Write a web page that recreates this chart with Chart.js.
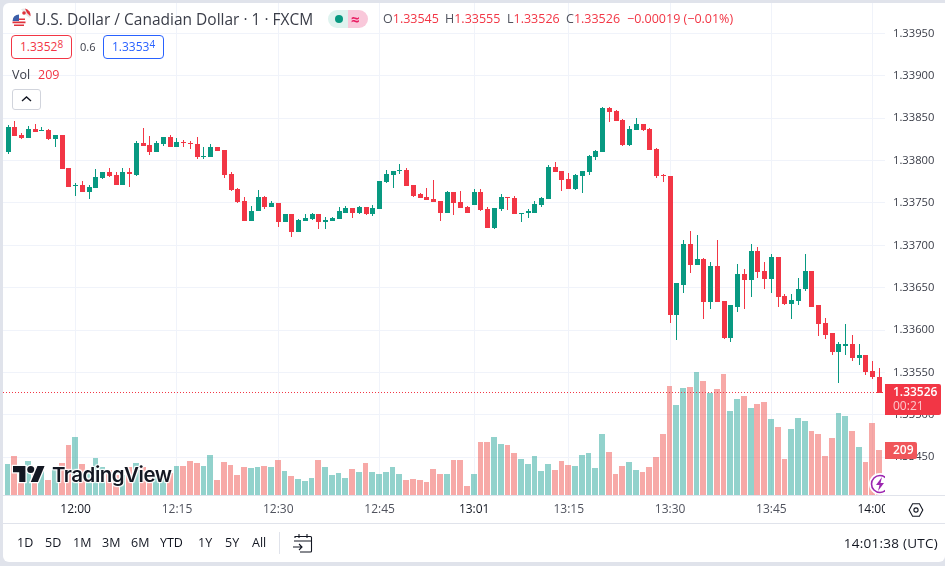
<!DOCTYPE html>
<html>
<head>
<meta charset="utf-8">
<title>USD/CAD</title>
<script src="https://cdn.jsdelivr.net/npm/chart.js@4"></script>
<style>
  html, body { margin: 0; padding: 0; background: #e0e3eb; }
  body { width: 945px; height: 566px; overflow: hidden; position: relative; font-family: "Open Sans", sans-serif; color: #131722; }
  #card { position: absolute; left: 3px; top: 3px; width: 942px; height: 559px; background: #fff; border-radius: 6px 0 6px 6px; }
  canvas { position: absolute; left: 0; top: 0; }
  .t { position: absolute; white-space: nowrap; line-height: 16px; }
  .red { color: #f23645; }
  .box { position: absolute; box-sizing: border-box; height: 24px; width: 61px; border: 1px solid; border-radius: 4px; font-size: 12px; line-height: 22px; text-align: center; background: #fff; }
  .box sup { font-size: 10px; line-height: 0; vertical-align: 3px; }
  .range { font-size: 12.5px; color: #131722; }
</style>
</head>
<body>
<div id="card"></div>
<canvas id="myChart" width="945" height="566"></canvas>

<!-- header -->
<svg style="position:absolute;left:12px;top:8px" width="19" height="20" viewBox="0 0 19 20">
  <circle cx="12" cy="7" r="6.5" fill="#fff"/>
  <path d="M9 1.2a6.5 6.5 0 0 1 8.6 8.8L14 7z" fill="#e8e8e8"/>
  <path d="M13 .6a6.5 6.5 0 0 1 5.4 7.6L15 5z" fill="#e0323c"/>
  <circle cx="12" cy="5" r="1.8" fill="#e0323c"/>
  <circle cx="7" cy="13" r="6.6" fill="#fff"/>
  <path d="M1 10.5h12v1.6H1zM.5 13.6h13v1.6H.5zM2 16.6h10v1.4H2z" fill="#e0323c"/>
  <path d="M7 6.4a6.6 6.6 0 0 0-6.5 6.6H7z" fill="#3c5fa8"/>
</svg>
<div class="t" style="left:35px;top:11px;font-size:15.5px;color:#3a3d48">U.S. Dollar / Canadian Dollar · 1 · FXCM</div>
<div style="position:absolute;left:328px;top:10px;width:20px;height:18px;background:#dff3ef;border-radius:9px 0 0 9px"></div>
<div style="position:absolute;left:348px;top:10px;width:20px;height:18px;background:#f9c8da;border-radius:0 9px 9px 0"></div>
<div style="position:absolute;left:335px;top:15px;width:8px;height:8px;background:#089981;border-radius:50%"></div>
<div class="t" style="left:351px;top:11px;font-size:15px;font-weight:700;color:#e91e63">≈</div>

<div class="t" style="left:383px;top:11px;font-size:12.5px;color:#50535e">O<span class="red">1.33545</span></div>
<div class="t" style="left:445px;top:11px;font-size:12.5px;color:#50535e">H<span class="red">1.33555</span></div>
<div class="t" style="left:507px;top:11px;font-size:12.5px;color:#50535e">L<span class="red">1.33526</span></div>
<div class="t" style="left:566px;top:11px;font-size:12.5px;color:#50535e">C<span class="red">1.33526</span></div>
<div class="t red" style="left:627px;top:11px;font-size:12.5px">−0.00019 (−0.01%)</div>

<div class="box" style="left:11px;top:35px;border-color:#f23645;color:#f23645">1.3352<sup>8</sup></div>
<div class="t" style="left:80px;top:39px;font-size:11px;color:#3a3d48">0.6</div>
<div class="box" style="left:103px;top:35px;border-color:#2962ff;color:#2962ff">1.3353<sup>4</sup></div>
<div class="t" style="left:12px;top:67px;font-size:12.5px;color:#3a3d48">Vol</div>
<div class="t red" style="left:38px;top:67px;font-size:12.5px">209</div>
<div style="position:absolute;box-sizing:border-box;left:12px;top:89px;width:29px;height:21px;border:1px solid #d1d4dc;border-radius:3px;background:#fff"></div>
<svg style="position:absolute;left:20px;top:95px" width="13" height="8" viewBox="0 0 13 8"><path d="M2 6l4.5-4 4.5 4" fill="none" stroke="#131722" stroke-width="1.4"/></svg>

<!-- logo -->
<svg style="position:absolute;left:13px;top:465px;overflow:visible" width="32" height="18" viewBox="0 0 36 20">
  <g stroke="#fff" stroke-width="3" paint-order="stroke" fill="#131722">
    <path d="M14 19H7V8H0V1h14z"/><circle cx="20" cy="5" r="4"/><path d="M28 19h-8l7.5-18h8z"/>
  </g>
</svg>
<div class="t" style="left:52px;top:464px;font-size:20.5px;line-height:22px;font-weight:600;font-family:Inter,sans-serif;letter-spacing:-0.5px;color:#131722;text-shadow:0 0 2px #fff,1px 1px 1px #fff,-1px -1px 1px #fff,1px -1px 1px #fff,-1px 1px 1px #fff">TradingView</div>

<!-- replay badge, cut off by the price axis -->
<div style="position:absolute;left:865px;top:470px;width:20px;height:25px;overflow:hidden">
  <svg style="position:absolute;left:3px;top:2px" width="24" height="24" viewBox="0 0 24 24">
    <circle cx="12" cy="12" r="11" fill="#fff"/>
    <circle cx="12" cy="12" r="8.5" fill="none" stroke="#9c27b0" stroke-width="1.6"/>
    <path d="M14 5l-6 8h3.5L10 19l6-8h-3.5z" fill="#9c27b0"/>
  </svg>
</div>

<!-- settings gear -->
<svg style="position:absolute;left:908px;top:502px" width="16" height="16" viewBox="0 0 16 16">
  <path d="M4.6 1.8h6.8L14.8 8l-3.4 6.2H4.6L1.2 8z" fill="none" stroke="#131722" stroke-width="1.1"/>
  <circle cx="8" cy="8" r="2.1" fill="none" stroke="#131722" stroke-width="1.1"/>
</svg>

<!-- bottom toolbar -->
<div class="t range" style="left:17px;top:535px">1D</div>
<div class="t range" style="left:45px;top:535px">5D</div>
<div class="t range" style="left:73px;top:535px">1M</div>
<div class="t range" style="left:102px;top:535px">3M</div>
<div class="t range" style="left:131px;top:535px">6M</div>
<div class="t range" style="left:160px;top:535px">YTD</div>
<div class="t range" style="left:198px;top:535px">1Y</div>
<div class="t range" style="left:225px;top:535px">5Y</div>
<div class="t range" style="left:252px;top:535px">All</div>
<div style="position:absolute;left:279px;top:532px;width:1px;height:22px;background:#e0e3eb"></div>
<svg style="position:absolute;left:292px;top:533px" width="21" height="20" viewBox="0 0 21 20">
  <path d="M3 5V3.5h15.5a1 1 0 0 1 1 1V18a1 1 0 0 1-1 1H8M2 8h17.5M7 1v4M15 1v4M1 14h9m-3-3l3 3-3 3" fill="none" stroke="#131722" stroke-width="1.1"/>
</svg>
<div class="t" style="right:7px;top:535px;font-size:13.5px;letter-spacing:0.25px">14:01:38 (UTC)</div>

<script>
const timeIndex = [10, 25, 40, 55, 69, 83, 98, 113, 128];
const timeLabels = ['12:00', '12:15', '12:30', '12:45', '13:01', '13:15', '13:30', '13:45', '14:00'];
const priceTicks = [1.3345, 1.335, 1.3355, 1.336, 1.3365, 1.337, 1.3375, 1.338, 1.3385, 1.339, 1.3395];
const lastPrice = 1.33526;
const lastVolume = 209;

const opens = [
    1.33810, 1.33840, 1.33830, 1.33827, 1.33837, 1.33835, 1.33836, 1.33826, 1.33830, 1.33791,
    1.33770, 1.33771, 1.33763, 1.33768, 1.33780, 1.33786, 1.33783, 1.33771, 1.33786, 1.33783,
    1.33821, 1.33819, 1.33810, 1.33820, 1.33828, 1.33816, 1.33822, 1.33821, 1.33820, 1.33804,
    1.33804, 1.33816, 1.33813, 1.33784, 1.33767, 1.33752, 1.33729, 1.33740, 1.33757, 1.33745,
    1.33750, 1.33727, 1.33737, 1.33716, 1.33729, 1.33731, 1.33737, 1.33727, 1.33729, 1.33731,
    1.33738, 1.33744, 1.33738, 1.33745, 1.33737, 1.33743, 1.33775, 1.33783, 1.33788, 1.33789,
    1.33771, 1.33760, 1.33757, 1.33755, 1.33752, 1.33738, 1.33763, 1.33751, 1.33745, 1.33748,
    1.33763, 1.33743, 1.33721, 1.33743, 1.33757, 1.33756, 1.33737, 1.33738, 1.33738, 1.33748,
    1.33755, 1.33793, 1.33788, 1.33778, 1.33767, 1.33782, 1.33787, 1.33804, 1.33810, 1.33862,
    1.33859, 1.33848, 1.33819, 1.33836, 1.33843, 1.33837, 1.33814, 1.33783, 1.33782, 1.33618,
    1.33653, 1.33702, 1.33677, 1.33684, 1.33633, 1.33676, 1.33634, 1.33591, 1.33627, 1.33666,
    1.33659, 1.33693, 1.33670, 1.33660, 1.33686, 1.33640, 1.33631, 1.33634, 1.33648, 1.33670,
    1.33629, 1.33608, 1.33596, 1.33574, 1.33581, 1.33583, 1.33567, 1.33570, 1.33552, 1.33545
];
const highs = [
    1.33842, 1.33847, 1.33832, 1.33841, 1.33843, 1.33840, 1.33837, 1.33830, 1.33830, 1.33791,
    1.33774, 1.33776, 1.33771, 1.33790, 1.33786, 1.33791, 1.33786, 1.33791, 1.33791, 1.33823,
    1.33839, 1.33829, 1.33823, 1.33828, 1.33830, 1.33827, 1.33824, 1.33823, 1.33828, 1.33816,
    1.33820, 1.33816, 1.33813, 1.33786, 1.33768, 1.33757, 1.33747, 1.33765, 1.33758, 1.33752,
    1.33750, 1.33737, 1.33737, 1.33731, 1.33737, 1.33738, 1.33737, 1.33734, 1.33734, 1.33745,
    1.33747, 1.33744, 1.33747, 1.33745, 1.33748, 1.33776, 1.33789, 1.33788, 1.33796, 1.33791,
    1.33771, 1.33762, 1.33768, 1.33777, 1.33752, 1.33764, 1.33763, 1.33764, 1.33747, 1.33767,
    1.33767, 1.33745, 1.33744, 1.33760, 1.33757, 1.33758, 1.33738, 1.33743, 1.33752, 1.33757,
    1.33795, 1.33798, 1.33788, 1.33785, 1.33784, 1.33788, 1.33807, 1.33813, 1.33863, 1.33863,
    1.33860, 1.33849, 1.33841, 1.33850, 1.33843, 1.33839, 1.33815, 1.33784, 1.33782, 1.33655,
    1.33706, 1.33717, 1.33712, 1.33685, 1.33680, 1.33706, 1.33634, 1.33629, 1.33678, 1.33672,
    1.33702, 1.33698, 1.33680, 1.33690, 1.33686, 1.33643, 1.33643, 1.33662, 1.33690, 1.33670,
    1.33629, 1.33614, 1.33596, 1.33586, 1.33607, 1.33594, 1.33583, 1.33571, 1.33564, 1.33555
];
const lows = [
    1.33808, 1.33829, 1.33826, 1.33827, 1.33834, 1.33835, 1.33824, 1.33816, 1.33790, 1.33769,
    1.33758, 1.33763, 1.33755, 1.33768, 1.33778, 1.33781, 1.33771, 1.33771, 1.33769, 1.33782,
    1.33817, 1.33807, 1.33810, 1.33817, 1.33816, 1.33816, 1.33816, 1.33814, 1.33802, 1.33802,
    1.33804, 1.33811, 1.33780, 1.33764, 1.33750, 1.33729, 1.33729, 1.33740, 1.33743, 1.33745,
    1.33722, 1.33727, 1.33710, 1.33716, 1.33729, 1.33730, 1.33719, 1.33719, 1.33729, 1.33731,
    1.33738, 1.33732, 1.33737, 1.33736, 1.33735, 1.33743, 1.33774, 1.33768, 1.33784, 1.33770,
    1.33757, 1.33756, 1.33754, 1.33751, 1.33729, 1.33738, 1.33736, 1.33744, 1.33738, 1.33748,
    1.33741, 1.33721, 1.33719, 1.33740, 1.33742, 1.33737, 1.33728, 1.33732, 1.33738, 1.33745,
    1.33755, 1.33787, 1.33764, 1.33767, 1.33765, 1.33762, 1.33783, 1.33801, 1.33810, 1.33846,
    1.33847, 1.33817, 1.33817, 1.33836, 1.33835, 1.33813, 1.33780, 1.33775, 1.33608, 1.33588,
    1.33644, 1.33667, 1.33677, 1.33613, 1.33625, 1.33633, 1.33590, 1.33586, 1.33621, 1.33625,
    1.33639, 1.33662, 1.33648, 1.33644, 1.33627, 1.33629, 1.33613, 1.33630, 1.33646, 1.33627,
    1.33593, 1.33590, 1.33570, 1.33537, 1.33571, 1.33564, 1.33559, 1.33547, 1.33542, 1.33526
];
const closes = [
    1.33840, 1.33829, 1.33827, 1.33837, 1.33834, 1.33836, 1.33826, 1.33830, 1.33790, 1.33769,
    1.33771, 1.33763, 1.33769, 1.33781, 1.33786, 1.33782, 1.33771, 1.33786, 1.33784, 1.33821,
    1.33817, 1.33810, 1.33821, 1.33828, 1.33816, 1.33822, 1.33821, 1.33820, 1.33804, 1.33806,
    1.33816, 1.33811, 1.33783, 1.33765, 1.33751, 1.33729, 1.33741, 1.33757, 1.33745, 1.33750,
    1.33727, 1.33737, 1.33716, 1.33730, 1.33732, 1.33737, 1.33727, 1.33730, 1.33732, 1.33740,
    1.33744, 1.33738, 1.33745, 1.33737, 1.33744, 1.33776, 1.33784, 1.33788, 1.33789, 1.33770,
    1.33758, 1.33756, 1.33754, 1.33751, 1.33738, 1.33763, 1.33750, 1.33744, 1.33738, 1.33763,
    1.33742, 1.33721, 1.33744, 1.33757, 1.33756, 1.33737, 1.33738, 1.33740, 1.33749, 1.33756,
    1.33793, 1.33787, 1.33777, 1.33767, 1.33783, 1.33788, 1.33806, 1.33811, 1.33862, 1.33857,
    1.33847, 1.33819, 1.33837, 1.33843, 1.33836, 1.33813, 1.33782, 1.33782, 1.33618, 1.33655,
    1.33702, 1.33677, 1.33684, 1.33633, 1.33676, 1.33633, 1.33591, 1.33629, 1.33666, 1.33659,
    1.33693, 1.33669, 1.33660, 1.33686, 1.33639, 1.33631, 1.33636, 1.33649, 1.33670, 1.33627,
    1.33607, 1.33594, 1.33574, 1.33583, 1.33583, 1.33567, 1.33570, 1.33551, 1.33545, 1.33526
];
const volumes = [
    146, 183, 133, 159, 133, 141, 71, 125, 150, 234,
    271, 146, 118, 173, 133, 118, 94, 94, 133, 149,
    133, 118, 94, 94, 102, 136, 136, 159, 150, 136,
    187, 71, 155, 141, 94, 132, 127, 132, 136, 132,
    164, 113, 90, 76, 67, 80, 164, 132, 94, 104,
    80, 122, 108, 150, 108, 99, 108, 132, 99, 71,
    76, 71, 62, 122, 99, 99, 164, 164, 43, 99,
    248, 248, 271, 238, 234, 197, 169, 146, 183, 113,
    146, 118, 159, 141, 136, 187, 197, 127, 284, 200,
    98, 135, 153, 116, 107, 130, 176, 283, 506, 418,
    497, 502, 571, 529, 474, 492, 562, 390, 446, 460,
    404, 423, 432, 353, 316, 167, 307, 358, 344, 297,
    283, 181, 265, 381, 367, 297, 223, 153, 334, 209
];

const UP = '#089981';
const DOWN = '#f23645';
const FONT = '"Open Sans", sans-serif';

const isUp = closes.map((c, i) => c >= opens[i]);
const candleColors = isUp.map(u => u ? UP : DOWN);
const volumeColors = isUp.map(u => u ? 'rgba(38, 166, 154, 0.5)' : 'rgba(239, 83, 80, 0.5)');

// snap the bars to whole pixels, the reference is drawn crisp
const pixelSnap = {
    id: 'pixelSnap',
    afterDatasetsUpdate(chart) {
        for (const el of chart.getDatasetMeta(0).data) {
            const left = Math.round(el.x - 3.38);
            const right = Math.round(el.x + 3.38) - 1;
            el.x = (left + right) / 2;
            el.width = right - left;
            el.y = Math.round(el.y);
            el.base = Math.round(el.base);
        }
        for (const idx of [1, 2]) {
            for (const el of chart.getDatasetMeta(idx).data) {
                el.x = Math.floor(el.x) + 0.5;
                el.y = Math.round(el.y);
                el.base = Math.round(el.base);
                if (el.base === el.y) el.base = el.y + 1;
            }
        }
        for (const el of chart.getDatasetMeta(3).data) {
            el.y = Math.round(el.y) - 0.5;
        }
    }
};

// panel lines, the clip of the time axis and the price / volume tags
const panels = {
    id: 'panels',
    afterDraw(chart) {
        const ctx = chart.ctx;
        const area = chart.chartArea;
        const yScale = chart.scales.y;
        const volScale = chart.scales.y1;
        ctx.save();
        ctx.fillStyle = '#fff';
        ctx.fillRect(area.right, area.bottom + 1, 20, 27);
        ctx.fillStyle = '#e0e3eb';
        ctx.fillRect(3, Math.round(area.bottom), 942, 1);
        ctx.fillRect(3, 523, 942, 1);

        const py = Math.round(yScale.getPixelForValue(lastPrice));
        ctx.fillStyle = DOWN;
        ctx.beginPath();
        ctx.roundRect(area.right, py - 9, 56, 31, [0, 2, 2, 0]);
        ctx.fill();
        ctx.textBaseline = 'middle';
        ctx.textAlign = 'left';
        ctx.font = '600 12px ' + FONT;
        ctx.fillStyle = '#fff';
        ctx.fillText(lastPrice.toFixed(5), area.right + 8, py);
        ctx.font = '12px ' + FONT;
        ctx.fillStyle = '#fbc8cc';
        ctx.fillText('00:21', area.right + 8, py + 14);

        const vy = Math.round(volScale.getPixelForValue(lastVolume));
        ctx.fillStyle = '#f0565a';
        ctx.beginPath();
        ctx.roundRect(area.right, vy - 8, 32, 17, [0, 2, 2, 0]);
        ctx.fill();
        ctx.font = '600 12px ' + FONT;
        ctx.fillStyle = '#fff';
        ctx.fillText(String(lastVolume), area.right + 8, vy + 1);
        ctx.restore();
    }
};

const xs = opens.map((o, i) => i);
const X_MIN = -0.755;
const X_MAX = 129.82;

new Chart(document.getElementById('myChart'), {
    type: 'bar',
    data: {
        datasets: [
            {
                label: 'Vol',
                data: xs.map(i => ({ x: i, y: volumes[i] })),
                yAxisID: 'y1',
                backgroundColor: volumeColors,
                barThickness: 6,
                inflateAmount: 0,
                grouped: false,
                order: 3
            },
            {
                label: 'Wick',
                data: xs.map(i => ({ x: i, y: [lows[i], highs[i]] })),
                yAxisID: 'y',
                backgroundColor: candleColors,
                barThickness: 1,
                inflateAmount: 0,
                grouped: false,
                order: 2
            },
            {
                label: 'USD/CAD',
                data: xs.map(i => ({ x: i, y: [opens[i], closes[i]] })),
                yAxisID: 'y',
                backgroundColor: candleColors,
                barThickness: 5,
                inflateAmount: 0,
                grouped: false,
                order: 1
            },
            {
                type: 'line',
                label: 'Last',
                data: [{ x: X_MIN, y: lastPrice }, { x: X_MAX, y: lastPrice }],
                yAxisID: 'y',
                borderColor: DOWN,
                borderWidth: 1,
                borderDash: [1, 2],
                pointRadius: 0,
                order: 0
            }
        ]
    },
    options: {
        responsive: false,
        animation: false,
        events: [],
        layout: { autoPadding: false, padding: { left: 3, top: 3, right: 0, bottom: 43 } },
        plugins: { legend: { display: false }, tooltip: { enabled: false } },
        scales: {
            x: {
                type: 'linear',
                offset: false,
                bounds: 'data',
                min: X_MIN,
                max: X_MAX,
                afterBuildTicks(axis) { axis.ticks = timeIndex.map(v => ({ value: v })); },
                afterFit(axis) { axis.height = 27.7; axis.paddingLeft = 0; axis.paddingRight = 0; },
                grid: { color: '#f0f3fa', drawTicks: false, offset: false },
                border: { display: false },
                ticks: {
                    autoSkip: false,
                    maxRotation: 0,
                    padding: 7,
                    font: { family: FONT, size: 12 },
                    color: ctx => ['12:00', '13:01', '14:00'].includes(timeLabels[ctx.index]) ? '#131722' : '#50535e',
                    callback: v => timeLabels[timeIndex.indexOf(v)]
                }
            },
            y: {
                position: 'right',
                bounds: 'data',
                min: 1.33405,
                max: 1.33986,
                afterBuildTicks(axis) { axis.ticks = priceTicks.map(v => ({ value: v })); },
                afterFit(axis) { axis.width = 60; axis.paddingTop = 0; axis.paddingBottom = 0; },
                grid: { color: '#f0f3fa', drawTicks: false },
                border: { display: false },
                ticks: {
                    padding: 8,
                    font: { family: FONT, size: 11.2 },
                    color: '#3a3d48',
                    callback: v => v.toFixed(5)
                }
            },
            y1: {
                display: false,
                bounds: 'data',
                min: 0,
                max: 2286
            }
        }
    },
    plugins: [pixelSnap, panels]
});
</script>
</body>
</html>
